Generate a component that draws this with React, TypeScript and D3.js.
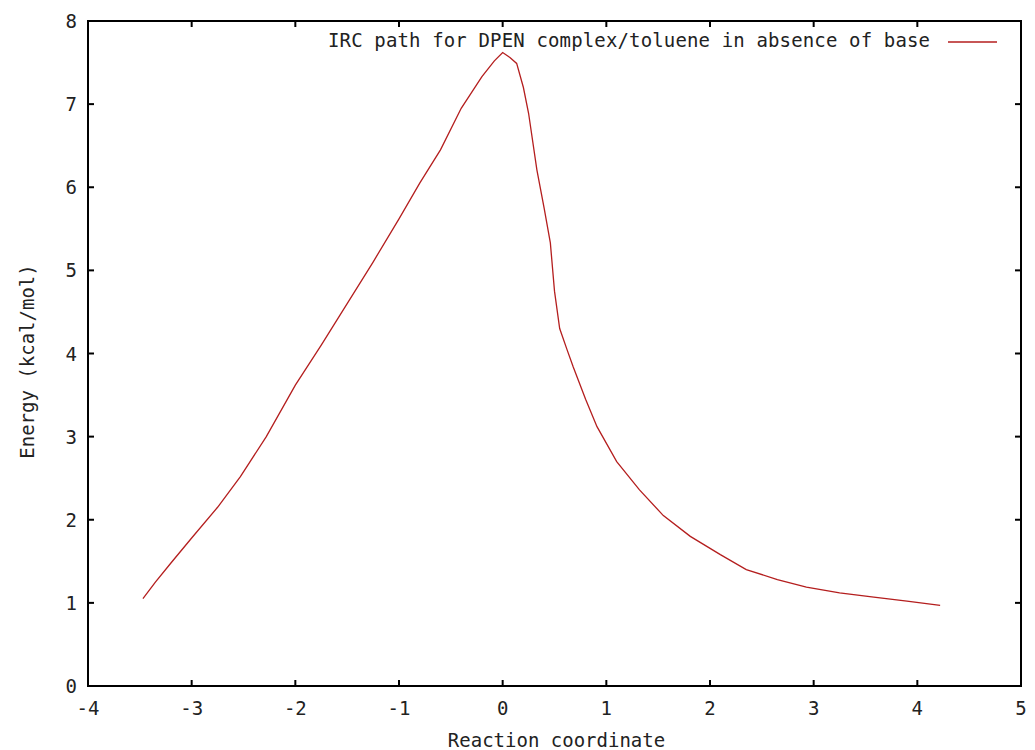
import * as React from "react";
import * as d3 from "d3";

// IRC energy profile
const reactionCoord = [
  -3.47, -3.35, -3.2, -3.0, -2.75, -2.53, -2.28, -2.0, -1.75, -1.5, -1.25, -1.0,
  -0.8, -0.6, -0.4, -0.2, -0.08, 0.0, 0.07, 0.135, 0.2, 0.25, 0.33, 0.4, 0.46,
  0.5, 0.55, 0.62, 0.68, 0.8, 0.91, 1.1, 1.32, 1.55, 1.81, 2.1, 2.35, 2.65,
  2.93, 3.25, 3.58, 3.9, 4.22,
];
const energy = [
  1.05, 1.25, 1.48, 1.78, 2.15, 2.52, 3.0, 3.62, 4.1, 4.6, 5.1, 5.62, 6.05,
  6.45, 6.95, 7.33, 7.52, 7.62, 7.56, 7.49, 7.2, 6.89, 6.21, 5.75, 5.33, 4.75,
  4.3, 4.05, 3.84, 3.45, 3.12, 2.7, 2.36, 2.05, 1.8, 1.58, 1.4, 1.28, 1.19,
  1.12, 1.07, 1.02, 0.97,
];
const xTicks = [-4, -3, -2, -1, 0, 1, 2, 3, 4, 5];
const yTicks = [0, 1, 2, 3, 4, 5, 6, 7, 8];
const seriesLabel = "IRC path for DPEN complex/toluene in absence of base";
const xLabel = "Reaction coordinate";
const yLabel = "Energy (kcal/mol)";

const width = 1035;
const height = 750;
const margin = { top: 21, right: 14, bottom: 64, left: 88 };
const font = "'DejaVu Sans Mono', monospace";
const lineColor = "#b41e1e";
const tickLen = 6;

export default function App() {
  const x = d3
    .scaleLinear()
    .domain([-4, 5])
    .range([margin.left, width - margin.right]);
  const y = d3
    .scaleLinear()
    .domain([0, 8])
    .range([height - margin.bottom, margin.top]);

  const points = reactionCoord.map((d, i) => [d, energy[i]]);
  const line = d3
    .line()
    .x((d) => x(d[0]))
    .y((d) => y(d[1]));

  const [x0, x1] = x.range();
  const [y0, y1] = y.range();

  return (
    <div style={{ position: "fixed", left: 0, top: 0 }}>
      <svg width={width} height={height} style={{ display: "block", background: "#fff" }}>
        <g fontFamily={font} fontSize={19} fill="#222">
          {yTicks.map((t) => (
            <g key={"y" + t}>
              <line x1={x0} x2={x0 + tickLen} y1={y(t)} y2={y(t)} stroke="#000" strokeWidth={2} />
              <line x1={x1} x2={x1 - tickLen} y1={y(t)} y2={y(t)} stroke="#000" strokeWidth={2} />
              <text x={x0 - 11} y={y(t)} textAnchor="end" dominantBaseline="central">
                {t}
              </text>
            </g>
          ))}
          {xTicks.map((t) => (
            <g key={"x" + t}>
              <line x1={x(t)} x2={x(t)} y1={y0} y2={y0 - tickLen} stroke="#000" strokeWidth={2} />
              <line x1={x(t)} x2={x(t)} y1={y1} y2={y1 + tickLen} stroke="#000" strokeWidth={2} />
              <text x={x(t)} y={y0 + 22} textAnchor="middle" dominantBaseline="central">
                {t}
              </text>
            </g>
          ))}
          <text x={(x0 + x1) / 2 + 2} y={740} textAnchor="middle" dominantBaseline="central">
            {xLabel}
          </text>
          <text
            transform={`translate(27, ${(y0 + y1) / 2 + 8}) rotate(-90)`}
            textAnchor="middle"
            dominantBaseline="central"
          >
            {yLabel}
          </text>
          <text
            x={930}
            y={40}
            textAnchor="end"
            dominantBaseline="central"
            textLength={602}
            lengthAdjust="spacing"
          >
            {seriesLabel}
          </text>
        </g>
        <line x1={948} x2={997} y1={42} y2={42} stroke={lineColor} strokeWidth={1.3} />
        <path d={line(points) ?? ""} fill="none" stroke={lineColor} strokeWidth={1.3} />
        <rect
          x={x0}
          y={y1}
          width={x1 - x0}
          height={y0 - y1}
          fill="none"
          stroke="#000"
          strokeWidth={2}
        />
      </svg>
    </div>
  );
}
